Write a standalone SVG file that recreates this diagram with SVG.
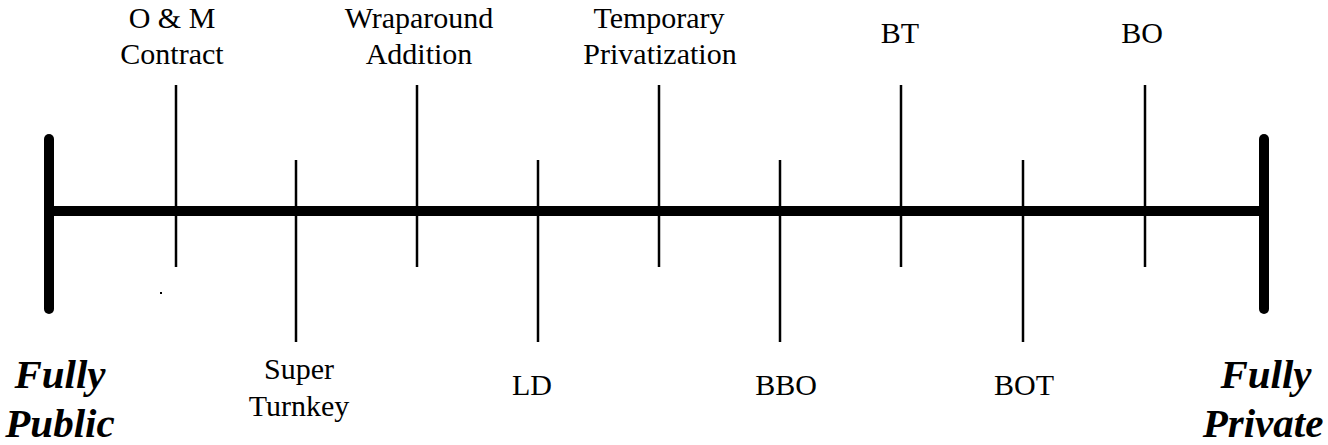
<svg xmlns="http://www.w3.org/2000/svg" width="1328" height="445" viewBox="0 0 1328 445">
<style>
.lbl{font-family:"Liberation Serif","Times New Roman",serif;font-size:30px;fill:#000;text-anchor:middle}
.end{font-family:"Liberation Serif","Times New Roman",serif;font-size:41px;font-weight:bold;font-style:italic;fill:#000;text-anchor:middle}
.tick{stroke:#000;stroke-width:2.5}
.bar{stroke:#000;stroke-width:10;stroke-linecap:round}
</style>
<rect width="1328" height="445" fill="#fff"/>
<g id="connectors">
<line class="bar" x1="49" y1="211" x2="1264" y2="211" style="stroke-linecap:butt"/>
</g>
<g id="public">
<line class="bar" x1="49" y1="139" x2="49" y2="309"/>
<text class="end" x="60" y="388">Fully</text>
<text class="end" x="60" y="437">Public</text>
</g>
<g id="private">
<line class="bar" x1="1264" y1="139" x2="1264" y2="309"/>
<text class="end" x="1266" y="388">Fully</text>
<text class="end" x="1263" y="437">Private</text>
</g>
<g id="om">
<line class="tick" x1="176" y1="85" x2="176" y2="267"/>
<text class="lbl" x="172" y="28">O &amp; M</text>
<text class="lbl" x="172" y="64">Contract</text>
</g>
<rect x="160" y="292" width="2" height="2" fill="#000"/>
<g id="superturnkey">
<line class="tick" x1="296" y1="160" x2="296" y2="342"/>
<text class="lbl" x="299" y="379">Super</text>
<text class="lbl" x="299" y="416">Turnkey</text>
</g>
<g id="wraparound">
<line class="tick" x1="417" y1="85" x2="417" y2="267"/>
<text class="lbl" x="419" y="28">Wraparound</text>
<text class="lbl" x="419" y="64">Addition</text>
</g>
<g id="ld">
<line class="tick" x1="538" y1="160" x2="538" y2="342"/>
<text class="lbl" x="532" y="395">LD</text>
</g>
<g id="temporary">
<line class="tick" x1="659" y1="85" x2="659" y2="267"/>
<text class="lbl" x="659" y="28">Temporary</text>
<text class="lbl" x="660" y="64">Privatization</text>
</g>
<g id="bbo">
<line class="tick" x1="780" y1="160" x2="780" y2="342"/>
<text class="lbl" x="786" y="395">BBO</text>
</g>
<g id="bt">
<line class="tick" x1="901" y1="85" x2="901" y2="267"/>
<text class="lbl" x="900" y="43">BT</text>
</g>
<g id="bot">
<line class="tick" x1="1023" y1="160" x2="1023" y2="342"/>
<text class="lbl" x="1024" y="395">BOT</text>
</g>
<g id="bo">
<line class="tick" x1="1145" y1="85" x2="1145" y2="267"/>
<text class="lbl" x="1142" y="43">BO</text>
</g>
</svg>
